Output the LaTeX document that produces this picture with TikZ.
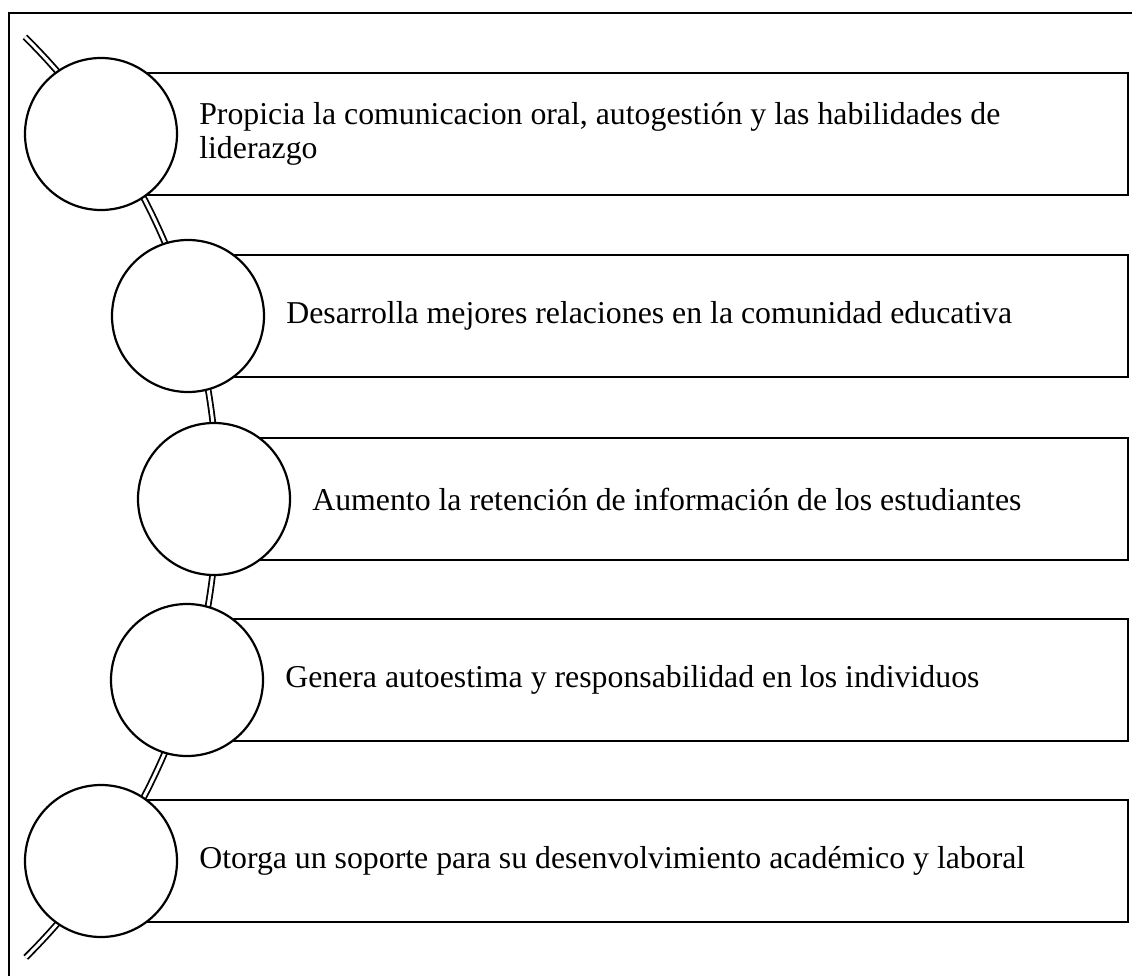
\documentclass[tikz,border=0pt]{standalone}
\usepackage{fontspec}
\setmainfont{Liberation Serif}
\usetikzlibrary{positioning}

\begin{document}
\begin{tikzpicture}[
    x=1pt, y=-1pt,
    box/.style={rectangle, draw, line width=2.4pt, fill=white, minimum height=122pt, inner sep=0pt, anchor=east},
    ball/.style={circle, draw, line width=2.2pt, fill=white, minimum size=152pt, inner sep=0pt},
    txt/.style={font=\fontsize{31.8}{34}\selectfont, align=left, inner sep=0pt},
    link/.style={double, double distance=3pt, line width=1.8pt},
]
\useasboundingbox (0,0) rectangle (1132,976);

% Frame
\draw[line width=1.6pt] (1140,13) -- (9,13) -- (9,990);

% Arc through the circles
\coordinate (top) at (25,37);
\draw[link] (top) arc[start angle=-45.3, end angle=45.2, radius=648];

% Boxes
\node[box, minimum width=1028pt] (b1) at (1129,134) {};
\node[box, minimum width=941pt] (b2) at (1129,316) {};
\node[box, minimum width=915pt] (b3) at (1129,499) {};
\node[box, minimum width=942pt] (b4) at (1129,680) {};
\node[box, minimum width=1028pt] (b5) at (1129,861) {};

% Circles
\node[ball] (c1) at (101,134) {};
\node[ball] (c2) at (188,316) {};
\node[ball] (c3) at (214,499) {};
\node[ball] (c4) at (187,680) {};
\node[ball] (c5) at (101,861) {};

% Texts
\node[txt, right=21pt of c1] (t1) {Propicia la comunicacion oral, autogestión y las habilidades de\\liderazgo};
\node[txt, right=21pt of c2] (t2) {Desarrolla mejores relaciones en la comunidad educativa};
\node[txt, right=21pt of c3] (t3) {Aumento la retención de información de los estudiantes};
\node[txt, right=21pt of c4] (t4) {Genera autoestima y responsabilidad en los individuos};
\node[txt, right=21pt of c5] (t5) {Otorga un soporte para su desenvolvimiento académico y laboral};

\end{tikzpicture}
\end{document}
